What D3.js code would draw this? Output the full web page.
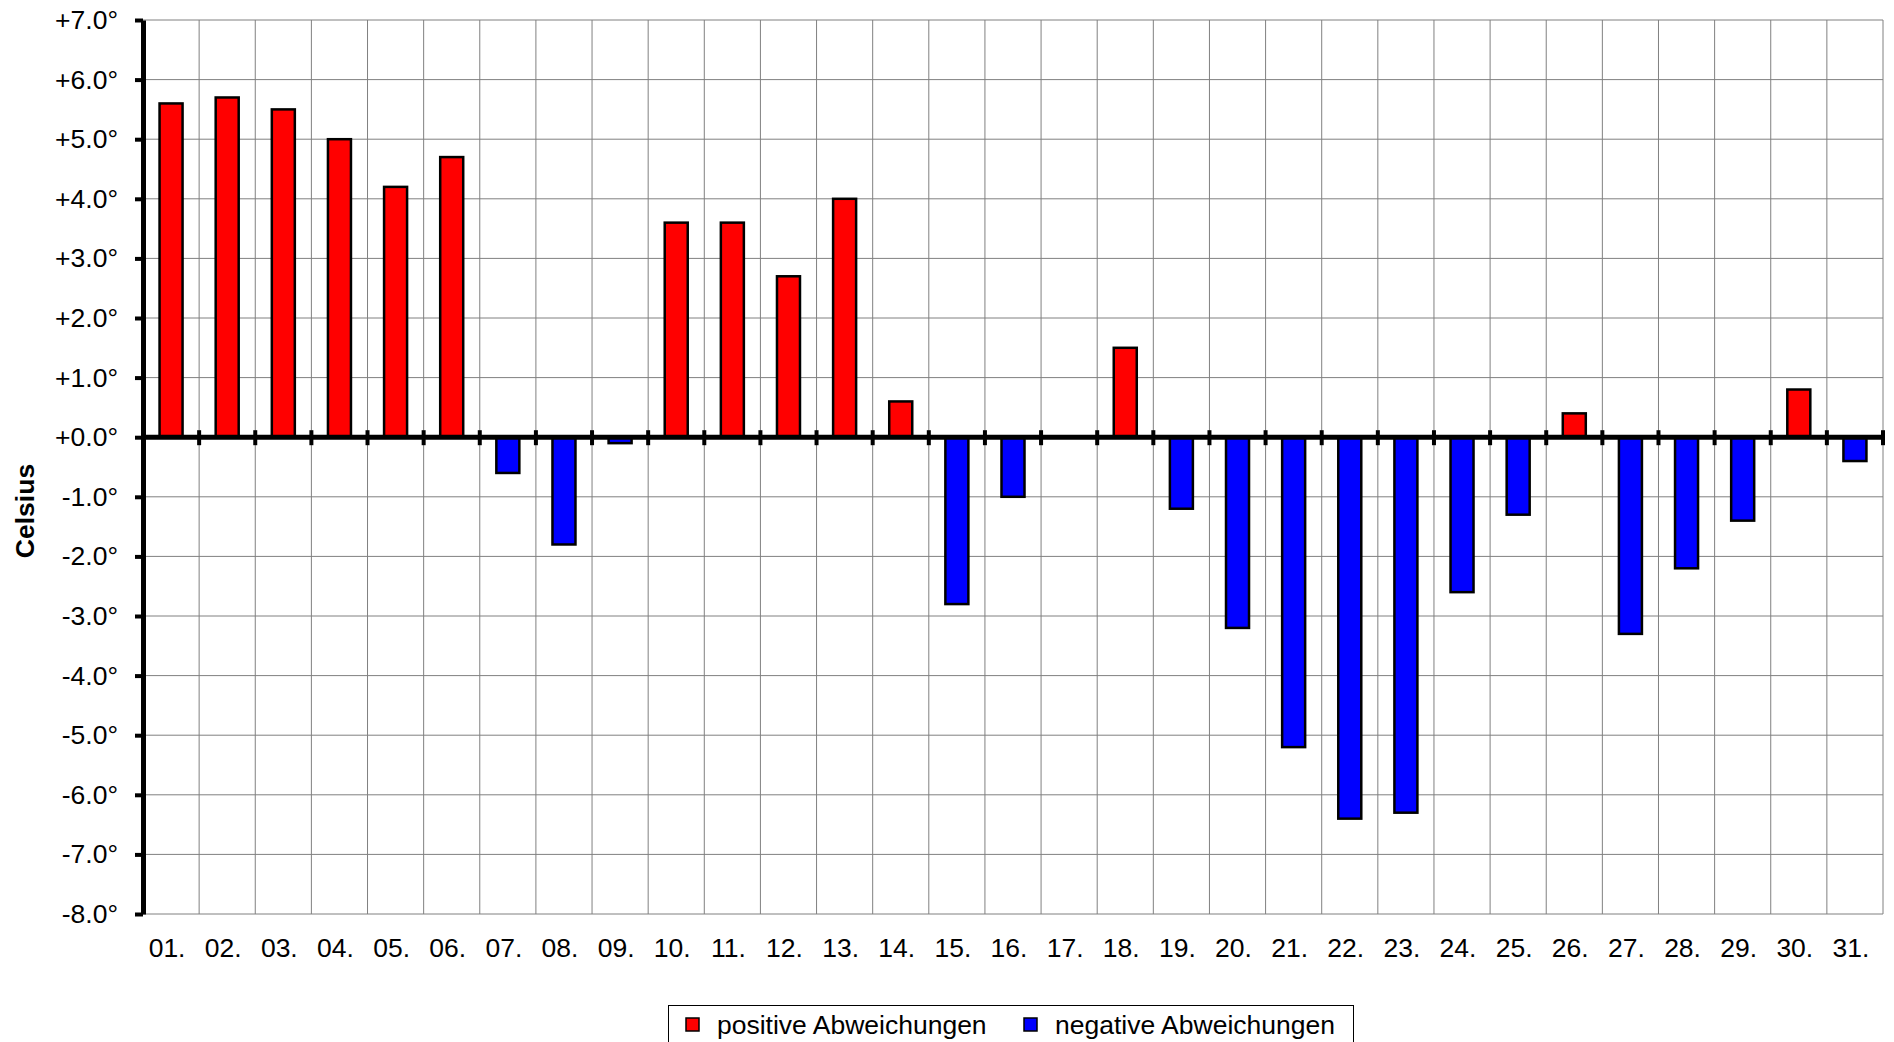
<!DOCTYPE html>
<html>
<head>
<meta charset="utf-8">
<script src="https://cdn.jsdelivr.net/npm/d3@7"></script>
<style>
  body { margin: 0; background: #fff; }
  text { font-family: "Liberation Sans", Arial, sans-serif; }
</style>
</head>
<body>
<script>
/** Data */
const days = ["01.", "02.", "03.", "04.", "05.", "06.", "07.", "08.", "09.", "10.",
  "11.", "12.", "13.", "14.", "15.", "16.", "17.", "18.", "19.", "20.",
  "21.", "22.", "23.", "24.", "25.", "26.", "27.", "28.", "29.", "30.", "31."];
const deviations = [5.6, 5.7, 5.5, 5.0, 4.2, 4.7, -0.6, -1.8, -0.1, 3.6,
  3.6, 2.7, 4.0, 0.6, -2.8, -1.0, 0, 1.5, -1.2, -3.2,
  -5.2, -6.4, -6.3, -2.6, -1.3, 0.4, -3.3, -2.2, -1.4, 0.8, -0.4];
const yTicks = [-8, -7, -6, -5, -4, -3, -2, -1, 0, 1, 2, 3, 4, 5, 6, 7];
const seriesNames = ["positive Abweichungen", "negative Abweichungen"];
const seriesColors = ["#ff0000", "#0000ff"];

/** Layout */
const width = 1894;
const height = 1042;
const plot = { left: 143, right: 1883, top: 20, bottom: 914 };
const fontSize = 26.5;

const svg = d3.select("body").append("svg")
  .attr("width", width)
  .attr("height", height);

const x = d3.scaleBand()
  .domain(days)
  .range([plot.left, plot.right])
  .paddingInner(0.59)
  .paddingOuter(0.295);

const y = d3.scaleLinear()
  .domain([-8, 7])
  .range([plot.bottom, plot.top]);

// boundaries between categories (for grid and zero-line ticks)
const bounds = d3.range(days.length + 1).map(i => plot.left + i * x.step());

// grid
svg.append("g").selectAll("line")
  .data(yTicks)
  .enter().append("line")
  .attr("x1", plot.left).attr("x2", plot.right)
  .attr("y1", d => y(d)).attr("y2", d => y(d))
  .attr("stroke", "#808080").attr("stroke-width", 1);

svg.append("g").selectAll("line")
  .data(bounds.slice(1))
  .enter().append("line")
  .attr("x1", d => d).attr("x2", d => d)
  .attr("y1", plot.top).attr("y2", plot.bottom)
  .attr("stroke", "#808080").attr("stroke-width", 1);

// bars
svg.append("g").selectAll("rect")
  .data(days.map((d, i) => ({ day: d, v: deviations[i] })).filter(d => d.v !== 0))
  .enter().append("rect")
  .attr("x", d => x(d.day))
  .attr("width", x.bandwidth())
  .attr("y", d => y(Math.max(0, d.v)))
  .attr("height", d => Math.abs(y(d.v) - y(0)))
  .attr("fill", d => d.v > 0 ? seriesColors[0] : seriesColors[1])
  .attr("stroke", "#000")
  .attr("stroke-width", 2.5);

// zero line with category ticks
svg.append("line")
  .attr("x1", plot.left).attr("x2", plot.right + 2)
  .attr("y1", y(0)).attr("y2", y(0))
  .attr("stroke", "#000").attr("stroke-width", 5);

svg.append("g").selectAll("line")
  .data(bounds.slice(1))
  .enter().append("line")
  .attr("x1", d => d).attr("x2", d => d)
  .attr("y1", y(0) - 7).attr("y2", y(0) + 8)
  .attr("stroke", "#000").attr("stroke-width", 4);

// y axis
const yAxis = svg.append("g")
  .attr("transform", "translate(" + plot.left + ",0)")
  .call(d3.axisLeft(y)
    .tickValues(yTicks)
    .tickSize(8)
    .tickSizeOuter(0)
    .tickPadding(17)
    .tickFormat(v => (v >= 0 ? "+" : "") + v.toFixed(1) + "°"));
yAxis.select(".domain").attr("stroke-width", 5);
yAxis.selectAll(".tick line").attr("stroke-width", 4);
yAxis.selectAll(".tick text")
  .attr("font-size", fontSize)
  .attr("font-family", "Liberation Sans, Arial, sans-serif")
  .attr("fill", "#000");

// x labels
svg.append("g").selectAll("text")
  .data(days)
  .enter().append("text")
  .attr("x", d => x(d) + x.bandwidth() / 2 - 4)
  .attr("y", 957)
  .attr("text-anchor", "middle")
  .attr("font-size", fontSize)
  .text(d => d);

// y title
svg.append("text")
  .attr("transform", "translate(34,511) rotate(-90)")
  .attr("text-anchor", "middle")
  .attr("font-size", fontSize)
  .attr("font-weight", "bold")
  .text("Celsius");

// legend
const legend = svg.append("g").attr("id", "legend");
legend.append("rect")
  .attr("x", 668.5).attr("y", 1005.5)
  .attr("width", 685).attr("height", 40)
  .attr("fill", "none").attr("stroke", "#000").attr("stroke-width", 1);

const legendX = [686, 1024];
seriesNames.forEach((name, i) => {
  legend.append("rect")
    .attr("x", legendX[i]).attr("y", 1018)
    .attr("width", 13).attr("height", 13)
    .attr("fill", seriesColors[i])
    .attr("stroke", "#000").attr("stroke-width", 1.5);
  legend.append("text")
    .attr("x", legendX[i] + 31)
    .attr("y", 1034)
    .attr("font-size", fontSize)
    .text(name);
});
</script>
</body>
</html>
